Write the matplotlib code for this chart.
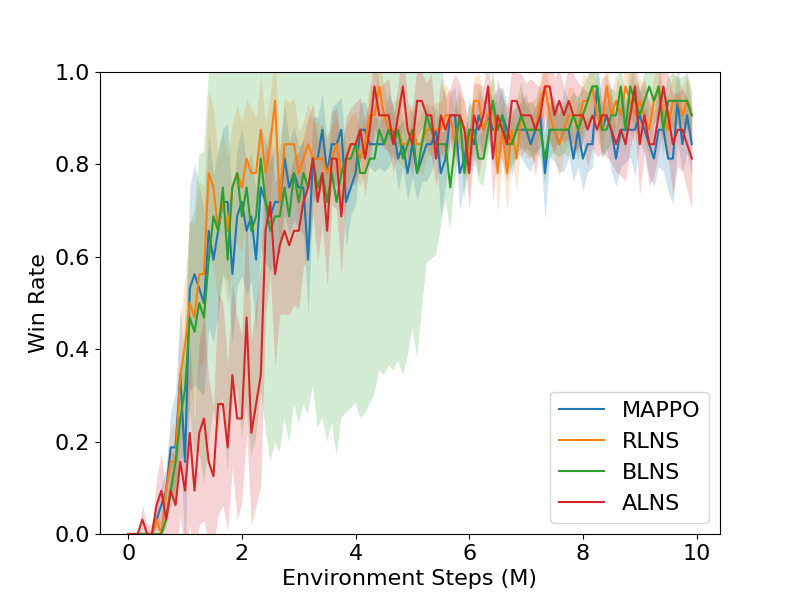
import numpy as np
import matplotlib
matplotlib.use("Agg")
import matplotlib.pyplot as plt

# -------- DATA --------
# evaluation every 1/12 M steps, win counts out of 32 episodes
N_EVAL = 32
STEP_M = 1 / 12

MAPPO_WINS = [
    0, 0, 0, 0, 0, 0, 1, 2, 3, 6, 6, 11, 5, 17, 18, 17, 16, 21, 19, 21,
    23, 23, 18, 22, 23, 21, 22, 19, 24, 23, 22, 23, 23, 26, 24, 25, 24, 24, 19, 26,
    26, 28, 25, 27,
    27, 28, 23, 24, 25, 28, 28, 27, 27, 27, 27, 28, 28, 26, 27, 25, 27, 25, 26, 27,
    27, 28, 25, 26, 29, 29,
    25, 26, 28, 27, 29, 28, 29, 28, 28, 29, 28, 27, 28, 28, 28, 27, 28, 29, 25, 28,
    28, 27, 28, 28, 26, 28,
    26, 27, 27, 31, 28, 29, 28, 26, 28, 28, 28, 28, 29, 28, 27, 26, 28, 28, 26, 26,
    30, 27, 29, 27,
]
RLNS_WINS = [
    0, 0, 0, 0, 0, 0, 1, 0, 3, 5, 5, 11, 13, 16, 15, 18, 18, 25, 24, 21,
    23, 21, 24, 25, 24, 26, 25, 25, 28, 25, 27, 30, 23, 27, 27, 27, 25, 26, 27, 26,
    26, 26, 25, 26,
    27, 25, 26, 27, 27, 26, 27, 29, 29, 31, 29, 28, 28, 28, 27, 27, 28, 27, 27, 28,
    28, 28, 28, 29, 29, 27,
    29, 28, 26, 30, 30, 28, 29, 30, 25, 28, 25, 28, 26, 29, 28, 28, 28, 30, 31, 29,
    28, 27, 28, 29, 29, 28,
    30, 30, 31, 29, 28, 31, 29, 30, 29, 31, 30, 29, 30, 29, 28, 30, 31, 29, 28, 30,
    30, 29, 30, 29,
]
BLNS_WINS = [
    0, 0, 0, 0, 0, 0, 0, 0, 1, 3, 5, 8, 10, 15, 14, 16, 15, 19, 22, 21,
    24, 19, 24, 25, 22, 24, 21, 22, 26, 23, 21, 22, 22, 24, 22, 25, 23, 25, 24, 26,
    24, 25, 23, 25,
    23, 25, 26, 26, 27, 25, 25, 26, 26, 28, 27, 28, 27, 28, 26, 27, 28, 25, 27, 29,
    28, 27, 27, 27, 24, 27,
    29, 25, 28, 28, 26, 26, 28, 30, 28, 29, 27, 27, 28, 29, 28, 28, 28, 28, 26, 28,
    28, 28, 28, 28, 29, 28,
    29, 30, 31, 31, 28, 28, 29, 29, 31, 28, 31, 30, 29, 30, 31, 30, 31, 28, 30, 30,
    30, 30, 30, 29,
]
ALNS_WINS = [
    0, 0, 0, 1, 0, 0, 2, 3, 1, 3, 2, 5, 3, 7, 3, 7, 8, 5, 4, 9,
    9, 6, 11, 8, 8, 15, 7, 9, 11, 21, 23, 18, 20, 21, 20, 21, 21, 23, 24, 26,
    23, 25, 21, 26,
    26, 22, 26, 27, 27, 28, 26, 28, 31, 29, 29, 29, 27, 29, 31, 28, 27, 30, 30, 29,
    29, 26, 29, 28, 29, 29, 29, 28, 25, 29, 28, 29,
    31, 26, 29, 28, 27, 30, 30, 29, 29, 29, 28, 29, 31, 31, 29, 30, 29, 30, 29, 29,
    29, 28, 29, 28, 29, 29, 28, 27, 28, 27, 29, 31, 27, 29, 27, 27, 29, 31, 29, 27,
    28, 28, 27, 26,
]

# spread across seeds, in hundredths of win rate
MAPPO_STD = [
    0, 0, 0, 0, 0, 0, 2, 4, 5, 8, 12, 15, 20, 22, 24, 22, 20, 21, 18, 18,
    16, 17, 15, 15, 16, 14, 14, 15, 13, 13, 12, 12, 11, 12, 10, 10, 9, 10, 12, 9,
    9, 8, 7, 8, 9, 7, 10, 6, 7, 6, 6, 5, 6, 5, 6, 8, 5, 7, 5, 6,
    7, 6, 5, 8, 6, 5, 9, 6, 5, 6, 8, 6, 7, 5, 6, 6, 5, 7, 9, 6,
    6, 7, 5, 6, 8, 6, 5, 7, 10, 6, 7, 6, 9, 6, 5, 8, 7, 6, 5, 6,
    6, 7, 9, 6, 8, 7, 6, 10, 6, 5, 7, 6, 8, 9, 7, 10, 9, 6, 8, 7,
]
RLNS_STD = [
    0, 0, 0, 0, 0, 0, 2, 2, 5, 7, 9, 12, 15, 18, 20, 20, 19, 18, 17, 16,
    15, 16, 14, 15, 14, 13, 14, 12, 12, 11, 11, 10, 12, 10, 9, 10, 9, 8, 9, 8,
    8, 7, 8, 7, 6, 8, 7, 6, 7, 6, 6, 7, 5, 6, 6, 5, 6, 7, 5, 6,
    6, 5, 7, 6, 5, 6, 6, 7, 5, 6, 5, 6, 7, 5, 6, 7, 6, 5, 9, 6,
    8, 6, 7, 5, 6, 6, 7, 5, 6, 5, 6, 7, 5, 6, 6, 5, 6, 5, 6, 5,
    5, 6, 5, 6, 6, 5, 7, 6, 5, 6, 6, 5, 6, 5, 7, 6, 5, 6, 6, 5,
]
BLNS_STD = [
    0, 0, 0, 0, 0, 0, 0, 0, 2, 4, 6, 9, 14, 20, 26, 32, 36, 40, 42, 44,
    45, 46, 47, 46, 48, 47, 49, 48, 50, 49, 50, 49, 51, 50, 49, 50, 48, 50, 49, 49,
    52, 53, 52, 54, 55, 53, 55, 54, 56, 53, 52, 53, 51, 52, 50, 51, 49, 50, 47, 46,
    43, 40, 36, 32, 28, 24, 18, 12, 9, 8, 6, 6, 5, 6, 5, 6, 5, 7, 5, 6,
    6, 5, 6, 7, 5, 6, 5, 6, 5, 6, 5, 6, 5, 6, 5, 7, 6, 5, 6, 5,
    6, 5, 6, 5, 7, 5, 6, 6, 5, 6, 5, 6, 5, 6, 5, 6, 5, 5, 6, 5,
]
ALNS_STD = [
    0, 0, 0, 3, 2, 2, 6, 8, 6, 9, 10, 12, 14, 20, 15, 20, 22, 18, 15, 24,
    22, 18, 20, 22, 18, 25, 20, 22, 24, 18, 16, 20, 15, 18, 15, 16, 17, 14, 15, 12,
    13, 11, 12, 10, 11, 13, 9, 8, 9, 7, 8, 7, 9, 6, 7, 8, 6, 7, 9, 6,
    7, 8, 6, 7, 9, 6, 8, 7, 6, 9, 7, 6, 8, 7, 10, 6, 7, 9, 8, 7,
    8, 7, 6, 9, 7, 8, 10, 6, 7, 12, 8, 7, 6, 8, 9, 7, 6, 8, 7, 6,
    8, 9, 7, 6, 10, 8, 7, 9, 11, 8, 9, 7, 8, 10, 9, 11, 8, 9, 10, 11,
]

LABELS = ["MAPPO", "RLNS", "BLNS", "ALNS"]
# ------------------------------------------------


def plot_curves(series, save_path="out.png"):
    plt.rcParams["font.size"] = 16
    plt.figure(figsize=(8, 6))

    for label, (wins, std) in series.items():
        mean = np.array(wins) / N_EVAL
        spread = np.array(std) / 100
        steps = np.arange(len(mean)) * STEP_M
        line, = plt.plot(steps, mean, label=label)
        plt.fill_between(steps, mean - spread, mean + spread,
                         color=line.get_color(), alpha=0.2, linewidth=0)

    plt.ylim(0, 1)
    plt.xlabel("Environment Steps (M)")
    plt.ylabel("Win Rate")
    plt.legend(loc="lower right")
    plt.savefig(save_path, dpi=100)


if __name__ == "__main__":
    data = {
        "MAPPO": (MAPPO_WINS, MAPPO_STD),
        "RLNS": (RLNS_WINS, RLNS_STD),
        "BLNS": (BLNS_WINS, BLNS_STD),
        "ALNS": (ALNS_WINS, ALNS_STD),
    }
    for k, (w, s) in data.items():
        assert len(w) == 120 and len(s) == 120, (k, len(w), len(s))
    plot_curves(data)
